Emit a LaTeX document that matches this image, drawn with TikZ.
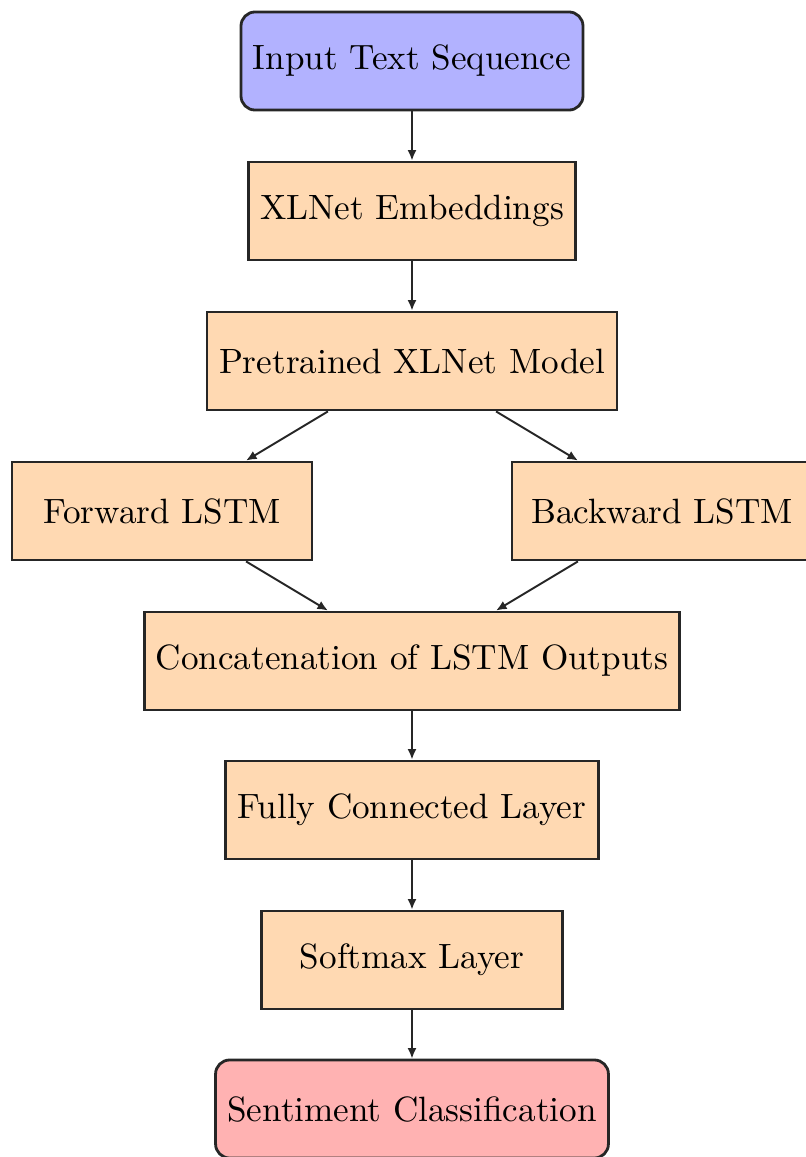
\documentclass[tikz,border=0pt]{standalone}
\usetikzlibrary{arrows.meta}
\begin{document}
\begin{tikzpicture}[x=0.2845pt,y=-0.2845pt,
  box/.style={draw=black!85,line width=0.8pt,fill=orange!30,minimum height=27.9pt,inner xsep=3.33pt,align=center,font=\normalsize},
  endbox/.style={box,rounded corners=4pt},
  arr/.style={-{Latex[length=3pt,width=2.6pt]},line width=0.55pt,draw=black!85}]
\useasboundingbox (0,0) rectangle (805,1157);
\node[endbox,fill=blue!30,minimum width=97.3pt] (inp) at (412,61) {Input Text Sequence};
\node[box,minimum width=93pt] (emb) at (412,211) {XLNet Embeddings};
\node[box,minimum width=116.6pt] (pre) at (412,361) {Pretrained XLNet Model};
\node[box,minimum width=85.4pt] (fwd) at (162,511) {Forward LSTM};
\node[box,minimum width=85.4pt] (bwd) at (662,511) {Backward LSTM};
\node[box,minimum width=152.2pt] (cat) at (412,661) {Concatenation of LSTM Outputs};
\node[box,minimum width=106.1pt] (fc) at (412,810) {Fully Connected Layer};
\node[box,minimum width=85.6pt] (soft) at (412,960) {Softmax Layer};
\node[endbox,fill=red!30,minimum width=111.5pt] (out) at (412,1109) {Sentiment Classification};
\draw[arr] (inp) -- (emb);
\draw[arr] (emb) -- (pre);
\draw[arr] (pre) -- (fwd);
\draw[arr] (pre) -- (bwd);
\draw[arr] (fwd) -- (cat);
\draw[arr] (bwd) -- (cat);
\draw[arr] (cat) -- (fc);
\draw[arr] (fc) -- (soft);
\draw[arr] (soft) -- (out);
\end{tikzpicture}
\end{document}
